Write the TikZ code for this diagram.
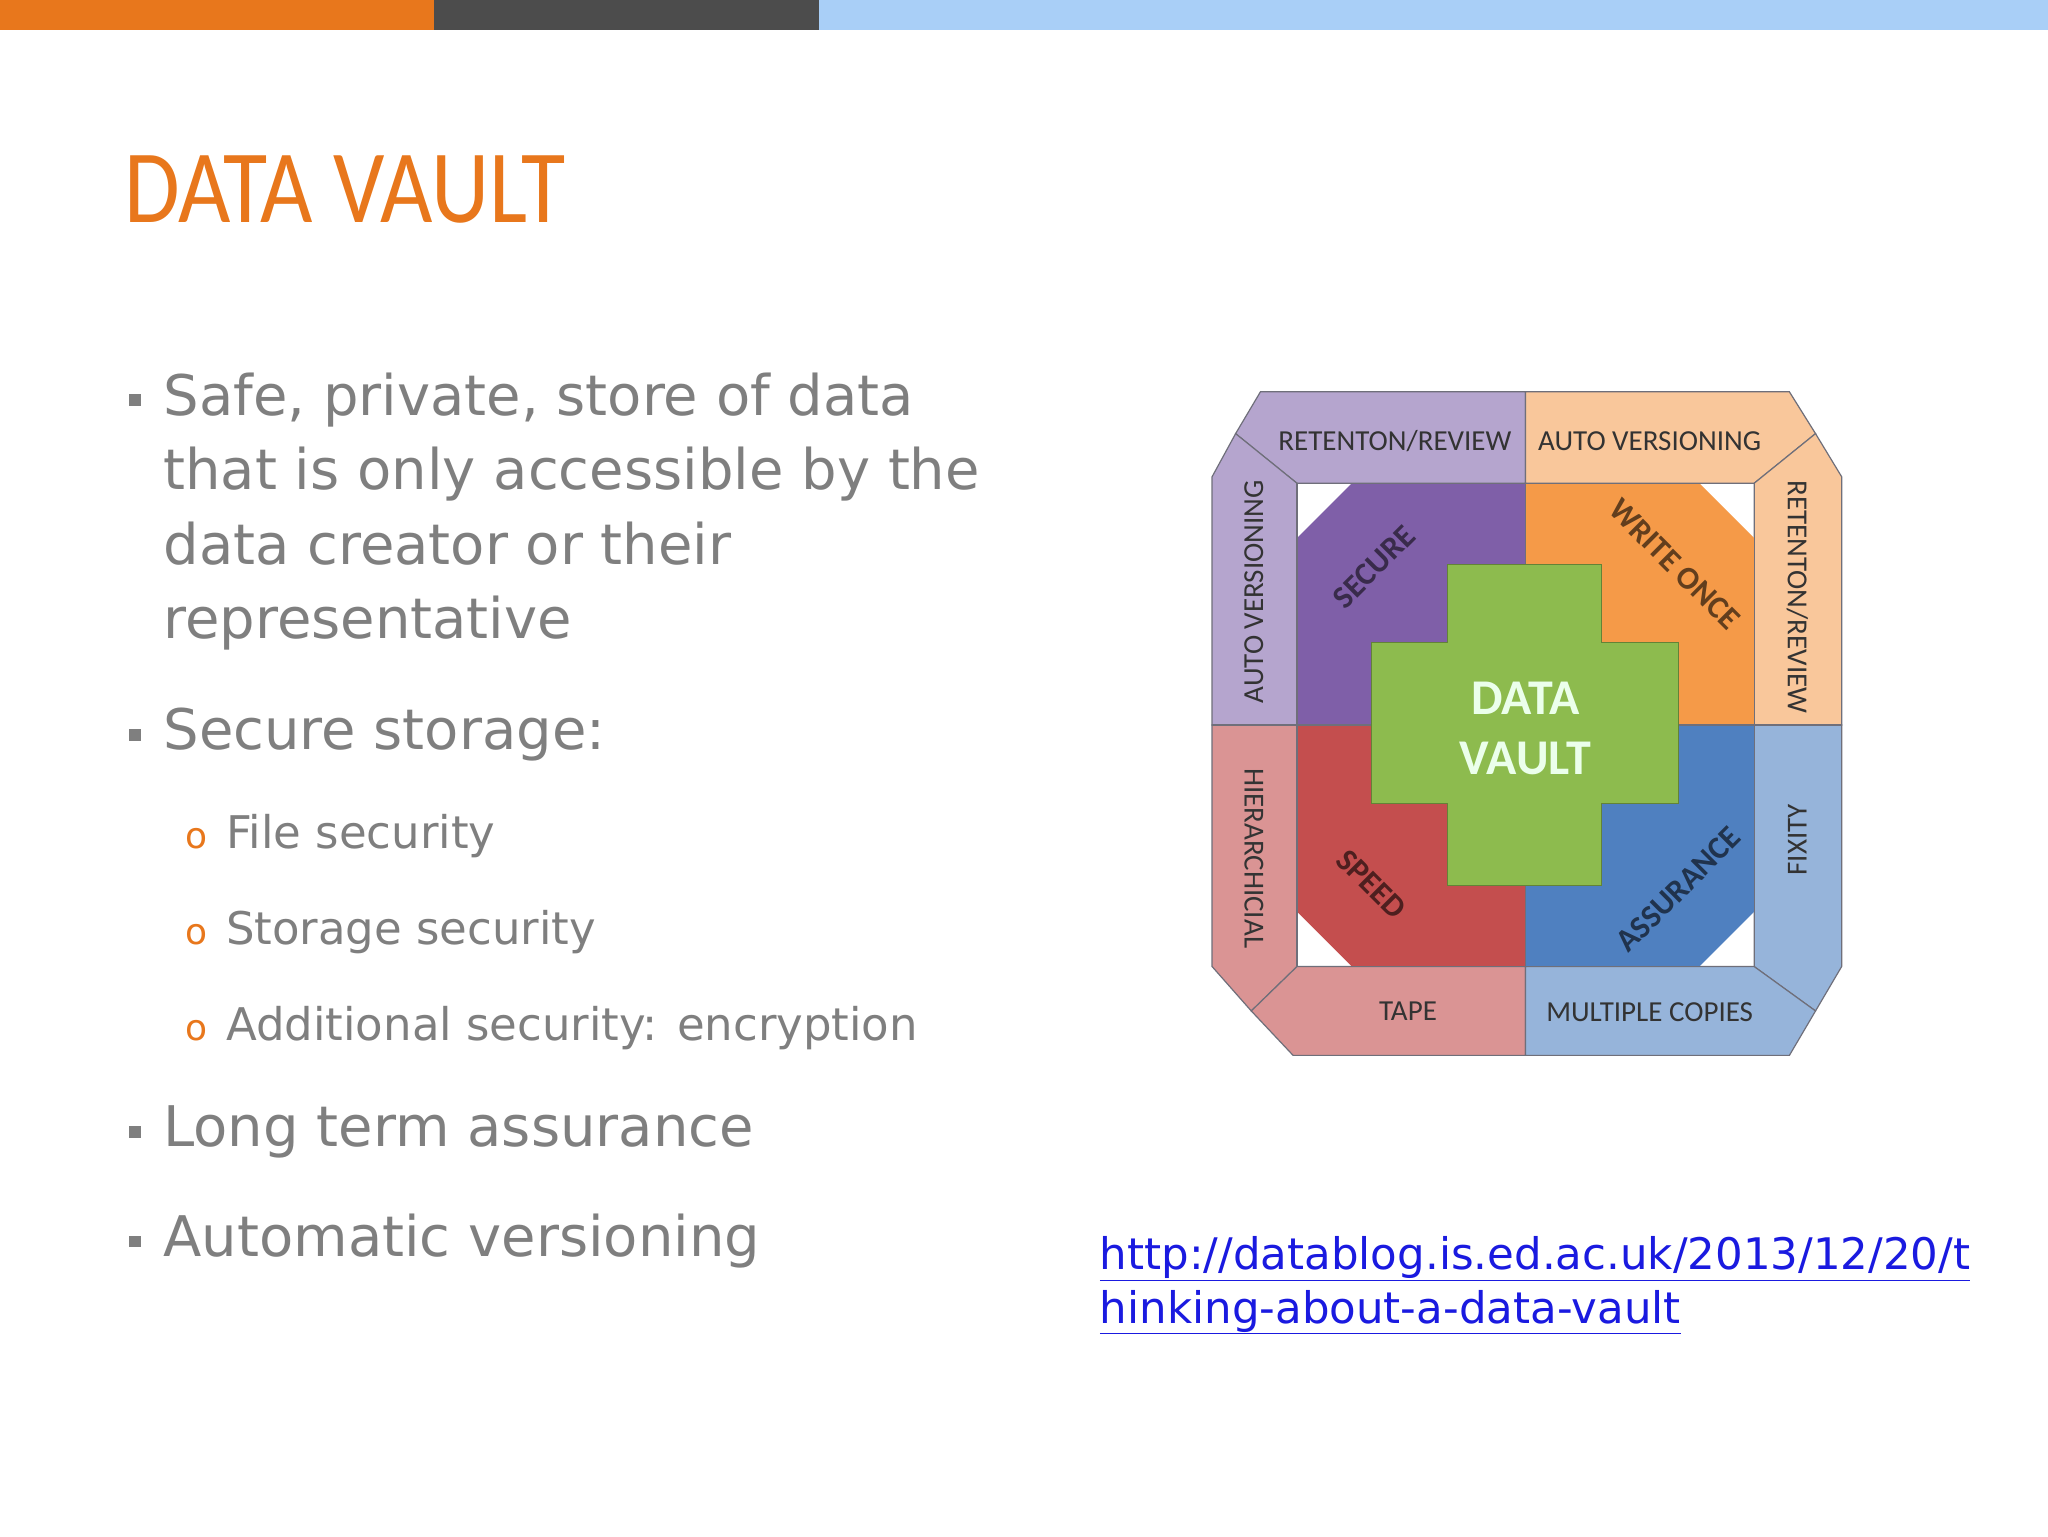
\documentclass[tikz,border=0pt]{standalone}
\usepackage{fontspec}
\setmainfont{DejaVu Sans}
\newfontfamily\carl{Carlito}
\definecolor{txt}{HTML}{7F7F7F}
\definecolor{ttl}{HTML}{E8771C}
\definecolor{pD}{HTML}{7F5FA8}\definecolor{pL}{HTML}{B5A5CE}
\definecolor{oD}{HTML}{F59A48}\definecolor{oL}{HTML}{F9C79B}
\definecolor{rD}{HTML}{C44E4E}\definecolor{rL}{HTML}{DA9494}
\definecolor{bD}{HTML}{4F80C0}\definecolor{bL}{HTML}{96B4DA}
\definecolor{gr}{HTML}{8DBB4E}
\definecolor{edge}{HTML}{6F6F7A}
\definecolor{lnk}{HTML}{1A1AE0}
\definecolor{skyb}{HTML}{A9CFF7}
\tikzset{
 bul/.style={anchor=base west,text=txt,font=\fontsize{56}{60}\selectfont,inner sep=0},
 sub/.style={anchor=base west,text=txt,font=\fontsize{45}{50}\selectfont,inner sep=0},
 lab/.style={font=\carl\fontsize{29}{30}\selectfont,text=black!80,inner sep=0},
 qlab/.style={font=\carl\bfseries\fontsize{32}{32}\selectfont,inner sep=0},
 big/.style={font=\carl\bfseries\fontsize{50}{50}\selectfont,inner sep=0},
 sh/.style={draw=edge,line width=1.2pt}
}
\begin{document}
\begin{tikzpicture}[x=1.3061pt,y=-1.3061pt]
\useasboundingbox (0,0) rectangle (1568,1176);
\fill[white] (0,0) rectangle (1568,1176);
\fill[ttl] (0,0) rectangle (332,23);
\fill[black!70!white] (332,0) rectangle (627,23);
\fill[skyb] (627,0) rectangle (1568,23);
\node[anchor=base west,inner sep=0,text=ttl,font=\carl\fontsize{104}{104}\selectfont,xscale=0.87] (title) at (95,170) {DATA VAULT};
% bullets
\foreach \y in {318,574,878,962} \fill[txt] (99,\y-16) rectangle (108,\y-7);
\node[bul] (b1) at (125,318) {Safe, private, store of data};
\node[bul] (b1b) at (125,375) {that is only accessible by the};
\node[bul] (b1c) at (125,432) {data creator or their};
\node[bul] (b1d) at (125,489) {representative};
\node[bul] (b2) at (125,574) {Secure storage:};
\foreach \y/\t [count=\i] in {650/File security,723/Storage security,797/Additional security: encryption}{
 \node[anchor=base west,inner sep=0,text=ttl,font=\fontsize{36}{36}\selectfont] (o\i) at (142,\y) {o};
 \node[sub] (s\i) at (173,\y) {\t};}
\node[bul] (b3) at (125,878) {Long term assurance};
\node[bul] (b4) at (125,962) {Automatic versioning};
\node[anchor=base west,inner sep=0,text=lnk,font=\fontsize{43.5}{43}\selectfont] (u1) at (842,972) {\underline{http://datablog.is.ed.ac.uk/2013/12/20/t}};
\node[anchor=base west,inner sep=0,text=lnk,font=\fontsize{43.5}{43}\selectfont] (u2) at (842,1013) {\underline{hinking-about-a-data-vault}};
% diagram outer ring
\filldraw[sh,fill=pL] (965,300)--(1168,300)--(1168,370)--(993,370)--(946,332)--cycle;
\filldraw[sh,fill=pL] (928,365)--(946,332)--(993,370)--(993,555)--(928,555)--cycle;
\filldraw[sh,fill=oL] (1168,300)--(1370,300)--(1390,332)--(1343,370)--(1168,370)--cycle;
\filldraw[sh,fill=oL] (1390,332)--(1410,365)--(1410,555)--(1343,555)--(1343,370)--cycle;
\filldraw[sh,fill=rL] (928,555)--(993,555)--(993,740)--(958,774)--(928,740)--cycle;
\filldraw[sh,fill=rL] (958,774)--(993,740)--(1168,740)--(1168,808)--(990,808)--cycle;
\filldraw[sh,fill=bL] (1343,555)--(1410,555)--(1410,740)--(1390,774)--(1343,740)--cycle;
\filldraw[sh,fill=bL] (1168,740)--(1343,740)--(1390,774)--(1370,808)--(1168,808)--cycle;
% inner quadrants
\fill[pD] (1035,370)--(1168,370)--(1168,555)--(993,555)--(993,412)--cycle;
\fill[oD] (1168,370)--(1301,370)--(1343,412)--(1343,555)--(1168,555)--cycle;
\fill[rD] (993,555)--(1168,555)--(1168,740)--(1035,740)--(993,698)--cycle;
\fill[bD] (1168,555)--(1343,555)--(1343,698)--(1301,740)--(1168,740)--cycle;
\draw[sh] (1168,300)--(1168,808) (928,555)--(1410,555);
\draw[sh] (993,370) rectangle (1343,740);
% cross
\filldraw[draw=gr!70!black,line width=0.8pt,fill=gr] (1108,432)--(1226,432)--(1226,492)--(1285,492)--(1285,615)--(1226,615)--(1226,678)--(1108,678)--(1108,615)--(1050,615)--(1050,492)--(1108,492)--cycle;
\node[big,text=white!92!green,align=center] (dv) at (1168,558) {DATA\\[10pt]VAULT};
% labels
\node[lab] (t1) at (1068,338) {RETENTON/REVIEW};
\node[lab] (t2) at (1263,338) {AUTO VERSIONING};
\node[lab] (t3) at (1078,774) {TAPE};
\node[lab] (t4) at (1263,775) {MULTIPLE COPIES};
\node[lab,rotate=90] (l1) at (960,453) {AUTO VERSIONING};
\node[lab,rotate=-90] (r1) at (1376,457) {RETENTON/REVIEW};
\node[lab,rotate=-90] (l2) at (960,657) {HIERARCHICIAL};
\node[lab,rotate=90] (r2) at (1376,643) {FIXITY};
\node[qlab,rotate=45,text=pD!45!black] (q1) at (1052,434) {SECURE};
\node[qlab,rotate=-45,text=oD!40!black] (q2) at (1282,432) {WRITE ONCE};
\node[qlab,rotate=-45,text=rD!40!black] (q3) at (1050,677) {SPEED};
\node[qlab,rotate=45,text=bD!40!black] (q4) at (1285,681) {ASSURANCE};
\end{tikzpicture}
\end{document}
